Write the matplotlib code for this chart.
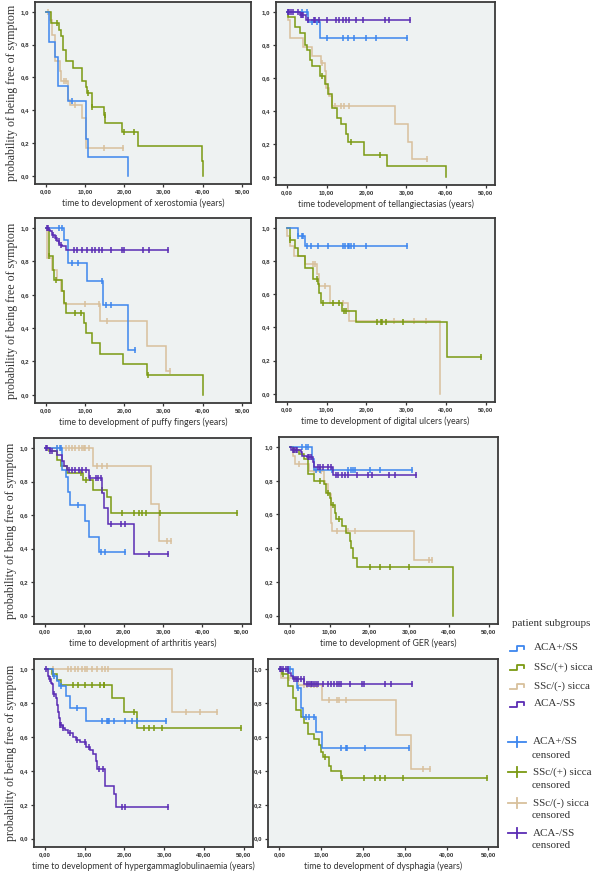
import numpy as np
import matplotlib
matplotlib.use("Agg")
import matplotlib.pyplot as plt
from matplotlib.lines import Line2D

# ---------------- data (times in years, survival probabilities, censor times) ----------------
# Panel 1: xerostomia
xero_blue_t = [0.8, 2.4, 3.2, 5.8, 10.2, 10.8, 21.1]
xero_blue_s = [0.818, 0.727, 0.545, 0.455, 0.227, 0.114, 0.0]
xero_blue_c = [6.6]
xero_green_t = [1.3, 3.4, 3.8, 4.5, 5.3, 7.1, 9.3, 10.2, 10.6, 11.7, 14.8, 15.2, 19.4, 23.6, 39.7, 40.2]
xero_green_s = [0.93, 0.89, 0.85, 0.77, 0.70, 0.66, 0.58, 0.54, 0.505, 0.42, 0.37, 0.32, 0.265, 0.18, 0.09, 0.0]
xero_green_c = [3.0, 10.8, 11.9, 15.0, 20.0, 22.5]
xero_tan_t = [1.2, 1.6, 2.4, 3.7, 4.0, 5.8, 6.1, 9.2, 10.2]
xero_tan_s = [0.95, 0.86, 0.70, 0.64, 0.58, 0.46, 0.43, 0.35, 0.17]
xero_tan_c = [0.5, 4.7, 5.3, 7.4, 14.8, 19.8]

# Panel 2: telangiectasias
tel_purple_t = [3.4, 4.8]
tel_purple_s = [0.98, 0.95]
tel_purple_c = [0.2, 0.5, 1.0, 1.5, 2.8, 3.6, 3.9, 4.2, 5.4, 6.8, 7.2, 8.1, 10.2, 12.3, 13.2,
                14.2, 14.8, 15.7, 17.4, 19.1, 24.6, 25.8, 30.9]
tel_blue_t = [5.4, 8.3]
tel_blue_s = [0.94, 0.84]
tel_blue_c = [0.4, 3.8, 5.0, 6.4, 7.6, 10.2, 14.2, 15.3, 16.9, 19.9, 22.3, 30.1]
tel_green_t = [0.4, 2.1, 3.4, 4.5, 5.1, 5.9, 6.4, 8.3, 9.7, 10.3, 11.3, 12.5, 13.6, 14.8, 15.3, 19.5, 25.2, 40.1]
tel_green_s = [0.97, 0.91, 0.87, 0.80, 0.77, 0.71, 0.67, 0.61, 0.56, 0.50, 0.42, 0.355, 0.32, 0.26, 0.21, 0.13, 0.065, 0.0]
tel_green_c = [8.9, 16.1, 23.3]
tel_tan_t = [0.2, 0.85, 4.2, 6.4, 8.5, 9.6, 9.9, 10.6, 11.4, 27.3, 30.5, 31.5]
tel_tan_s = [0.95, 0.84, 0.79, 0.73, 0.69, 0.64, 0.54, 0.49, 0.43, 0.32, 0.21, 0.11]
tel_tan_c = [8.9, 12.0, 13.6, 14.4, 15.7, 35.2]

# Panel 3: puffy fingers
puffy_purple_t = [0.8, 1.2, 1.6, 2.3, 2.9, 3.5, 4.2, 5.3]
puffy_purple_s = [0.99, 0.98, 0.96, 0.94, 0.92, 0.90, 0.89, 0.87]
puffy_purple_c = [0.3, 0.6, 1.8, 2.6, 3.3, 4.0, 7.2, 8.0, 9.3, 10.6, 11.7, 12.7, 13.6, 14.4,
                  16.6, 19.4, 20.0, 24.7, 26.4, 31.1]
puffy_blue_t = [4.6, 5.6, 10.6, 14.7, 21.1]
puffy_blue_s = [0.93, 0.79, 0.68, 0.54, 0.27]
puffy_blue_c = [3.3, 4.2, 6.6, 8.2, 14.4, 15.3, 16.6, 22.7]
puffy_green_t = [0.8, 1.9, 2.2, 4.2, 4.6, 5.3, 9.7, 10.2, 11.9, 13.8, 19.6, 25.7, 40.1]
puffy_green_s = [0.83, 0.75, 0.69, 0.62, 0.55, 0.49, 0.43, 0.37, 0.31, 0.245, 0.185, 0.12, 0.0]
puffy_green_c = [0.9, 2.6, 7.6, 9.1, 26.0]
puffy_tan_t = [0.3, 1.6, 2.9, 3.9, 4.6, 13.8, 25.7, 30.7]
puffy_tan_s = [0.82, 0.75, 0.69, 0.62, 0.545, 0.44, 0.29, 0.145]
puffy_tan_c = [10.0, 13.6, 15.6, 31.8]

# Panel 4: digital ulcers
dig_blue_t = [2.7, 4.5]
dig_blue_s = [0.95, 0.89]
dig_blue_c = [2.9, 3.9, 4.1, 5.0, 6.0, 7.8, 10.3, 14.2, 14.7, 15.4, 15.7, 16.1, 17.0, 20.0, 30.3]
dig_green_t = [0.7, 2.0, 2.7, 4.7, 6.5, 7.8, 8.2, 8.7, 13.8, 17.3, 40.2]
dig_green_s = [0.93, 0.88, 0.83, 0.76, 0.69, 0.66, 0.61, 0.545, 0.50, 0.435, 0.22]
dig_green_c = [0.9, 7.6, 9.0, 11.6, 13.1, 14.4, 14.8, 22.6, 23.7, 23.9, 24.9, 29.2, 48.8]
dig_tan_t = [0.1, 0.9, 1.8, 4.7, 7.6, 8.2, 10.8, 15.3, 15.7, 38.5]
dig_tan_s = [0.95, 0.89, 0.83, 0.78, 0.72, 0.65, 0.55, 0.50, 0.44, 0.0]
dig_tan_c = [6.7, 7.1, 9.7, 14.2, 26.9, 32.0, 35.0]

# Panel 5: arthritis
arth_tan_t = [12.3, 27.0, 29.0]
arth_tan_s = [0.89, 0.665, 0.445]
arth_tan_c = [3.1, 5.3, 6.1, 6.9, 7.8, 8.6, 9.5, 9.9, 10.3, 11.2, 13.3, 14.6, 15.7, 31.1, 32.1]
arth_green_t = [1.0, 3.1, 4.2, 5.7, 9.7, 12.2, 15.7, 16.7]
arth_green_s = [0.98, 0.93, 0.89, 0.85, 0.81, 0.75, 0.71, 0.615]
arth_green_c = [9.1, 10.6, 14.6, 19.7, 22.6, 23.9, 24.7, 25.6, 29.2, 48.7]
arth_purple_t = [1.3, 3.1, 4.4, 4.8, 5.7, 11.2, 14.6, 15.0, 16.0, 22.6]
arth_purple_s = [0.98, 0.96, 0.92, 0.89, 0.87, 0.82, 0.73, 0.64, 0.545, 0.365]
arth_purple_c = [0.3, 0.5, 1.4, 1.9, 6.1, 6.9, 7.8, 8.6, 9.5, 10.6, 11.6, 12.9, 13.5, 14.2,
                 16.7, 19.4, 20.3, 26.4, 31.3]
arth_blue_t = [4.4, 5.3, 5.9, 6.5, 10.3, 11.2, 13.9]
arth_blue_s = [0.87, 0.83, 0.74, 0.66, 0.565, 0.47, 0.38]
arth_blue_c = [3.1, 3.8, 4.2, 8.4, 14.3, 15.4, 20.3]

# Panel 6: GER
ger_blue_t = [5.6, 6.2]
ger_blue_s = [0.93, 0.865]
ger_blue_c = [3.2, 4.1, 4.5, 6.6, 7.7, 10.7, 14.7, 15.5, 15.9, 16.4, 20.2, 22.7, 30.8]
ger_purple_t = [0.4, 2.8, 3.2, 4.3, 5.8, 6.2, 10.8]
ger_purple_s = [0.98, 0.97, 0.95, 0.94, 0.91, 0.88, 0.835]
ger_purple_c = [0.7, 1.1, 1.5, 1.9, 4.7, 4.9, 5.3, 7.0, 7.7, 8.3, 9.6, 10.4, 11.7, 12.1, 13.0,
                13.8, 14.7, 16.8, 19.7, 20.6, 24.8, 26.5, 31.6]
ger_green_t = [0.7, 2.4, 3.6, 4.5, 6.2, 8.6, 9.2, 10.0, 10.4, 11.3, 11.7, 13.0, 14.2, 15.1, 15.5, 15.9, 16.8, 40.9]
ger_green_s = [0.98, 0.96, 0.93, 0.84, 0.80, 0.78, 0.73, 0.70, 0.655, 0.61, 0.575, 0.53, 0.49, 0.44, 0.40, 0.34, 0.29, 0.0]
ger_green_c = [1.1, 7.5, 9.6, 10.8, 12.3, 20.2, 22.7, 25.3, 29.9]
ger_tan_t = [0.7, 1.4, 4.9, 8.6, 8.9, 9.7, 10.3, 10.4, 10.7, 31.2]
ger_tan_s = [0.95, 0.90, 0.86, 0.80, 0.78, 0.72, 0.66, 0.55, 0.50, 0.33]
ger_tan_c = [2.4, 6.0, 7.9, 11.9, 14.7, 16.4, 35.0, 35.8]

# Panel 7: hypergammaglobulinaemia
hyp_tan_t = [32.0]
hyp_tan_s = [0.75]
hyp_tan_c = [2.1, 5.9, 6.7, 7.6, 8.4, 9.3, 10.1, 10.5, 11.8, 13.1, 14.3, 15.2, 15.8, 35.4, 39.0, 43.2]
hyp_green_t = [1.7, 3.1, 4.2, 16.9, 19.8, 23.2]
hyp_green_s = [0.97, 0.935, 0.905, 0.83, 0.75, 0.655]
hyp_green_c = [2.1, 7.0, 8.4, 10.1, 11.8, 13.9, 14.8, 15.0, 22.5, 25.0, 26.1, 27.4, 29.5, 49.2]
hyp_blue_t = [2.1, 3.1, 3.6, 5.3, 6.3, 10.4]
hyp_blue_s = [0.96, 0.93, 0.90, 0.84, 0.77, 0.695]
hyp_blue_c = [2.4, 4.2, 8.2, 14.3, 15.6, 15.9, 16.1, 17.3, 20.2, 21.9, 23.2, 30.5]
hyp_purple_t = [0.7, 1.1, 1.5, 1.9, 2.1, 2.8, 3.1, 3.4, 3.5, 3.8, 4.5, 5.1, 5.9, 7.0, 7.8, 8.9,
                10.4, 11.4, 12.0, 12.8, 13.1, 15.2, 17.5, 18.0]
hyp_purple_s = [0.96, 0.94, 0.92, 0.91, 0.855, 0.83, 0.79, 0.75, 0.71, 0.67, 0.655, 0.64, 0.625,
                0.60, 0.58, 0.57, 0.54, 0.52, 0.50, 0.455, 0.41, 0.31, 0.265, 0.185]
hyp_purple_c = [0.4, 1.3, 2.4, 3.9, 4.2, 4.7, 6.3, 8.2, 10.0, 11.0, 13.5, 14.6, 19.4, 20.2, 31.0]

# Panel 8: dysphagia
dys_purple_t = [2.2, 2.8, 3.2, 6.0]
dys_purple_s = [0.98, 0.96, 0.94, 0.91]
dys_purple_c = [0.1, 0.4, 0.9, 1.5, 2.0, 3.5, 4.1, 4.5, 5.2, 5.8, 6.6, 7.1, 7.5, 7.9, 8.4, 8.8,
                9.2, 10.5, 11.7, 12.3, 13.0, 13.9, 14.3, 14.7, 16.8, 19.8, 20.2, 25.3, 26.6, 31.7]
dys_blue_t = [3.2, 4.3, 5.2, 5.6, 8.8, 10.3]
dys_blue_s = [0.95, 0.89, 0.77, 0.715, 0.63, 0.535]
dys_blue_c = [2.0, 2.6, 4.5, 6.4, 7.1, 8.3, 14.7, 16.0, 16.2, 20.5, 30.9]
dys_green_t = [0.7, 2.2, 3.2, 4.1, 5.2, 5.8, 6.9, 8.2, 9.4, 10.0, 10.5, 12.0, 12.3, 14.7]
dys_green_s = [0.97, 0.90, 0.83, 0.76, 0.72, 0.68, 0.62, 0.585, 0.55, 0.51, 0.48, 0.43, 0.40, 0.36]
dys_green_c = [0.9, 10.9, 15.1, 20.2, 22.8, 24.1, 25.3, 29.6, 49.6]
dys_tan_t = [0.4, 4.5, 10.3, 27.9, 31.5]
dys_tan_s = [0.95, 0.905, 0.815, 0.61, 0.41]
dys_tan_c = [2.4, 5.8, 6.6, 7.5, 8.2, 8.9, 12.0, 13.7, 14.3, 16.0, 34.3, 36.0]

xlabels = [
    "time to development of xerostomia (years)",
    "time todevelopment of tellangiectasias (years)",
    "time to development of puffy fingers (years)",
    "time to development of digital ulcers (years)",
    "time to development of arthritis years)",
    "time to development of GER (years)",
    "time to development of hypergammaglobulinaemia (years)",
    "time to development of dysphagia (years)",
]
ylabel_text = "probability of being free of symptom"
group_names = ["ACA+/SS", "SSc/(+) sicca", "SSc/(-) sicca", "ACA-/SS"]
legend_title = "patient subgroups"
x_ticks = [0, 10, 20, 30, 40, 50]
y_ticks = [0.0, 0.2, 0.4, 0.6, 0.8, 1.0]

# ---------------- styling ----------------
COL = {"blue": "#3d86ee", "green": "#7b9a12", "tan": "#d8c09c", "purple": "#5a2cb4"}
BG = "#eef2f2"
SERIF = ["Liberation Serif", "DejaVu Serif"]
SANS = ["Lato", "DejaVu Sans"]
TICKFONT = ["Liberation Sans", "DejaVu Sans"]

panels = [
    [("tan", xero_tan_t, xero_tan_s, xero_tan_c), ("green", xero_green_t, xero_green_s, xero_green_c),
     ("blue", xero_blue_t, xero_blue_s, xero_blue_c)],
    [("tan", tel_tan_t, tel_tan_s, tel_tan_c), ("green", tel_green_t, tel_green_s, tel_green_c),
     ("blue", tel_blue_t, tel_blue_s, tel_blue_c), ("purple", tel_purple_t, tel_purple_s, tel_purple_c)],
    [("tan", puffy_tan_t, puffy_tan_s, puffy_tan_c), ("green", puffy_green_t, puffy_green_s, puffy_green_c),
     ("blue", puffy_blue_t, puffy_blue_s, puffy_blue_c), ("purple", puffy_purple_t, puffy_purple_s, puffy_purple_c)],
    [("tan", dig_tan_t, dig_tan_s, dig_tan_c), ("green", dig_green_t, dig_green_s, dig_green_c),
     ("blue", dig_blue_t, dig_blue_s, dig_blue_c)],
    [("tan", arth_tan_t, arth_tan_s, arth_tan_c), ("green", arth_green_t, arth_green_s, arth_green_c),
     ("blue", arth_blue_t, arth_blue_s, arth_blue_c), ("purple", arth_purple_t, arth_purple_s, arth_purple_c)],
    [("tan", ger_tan_t, ger_tan_s, ger_tan_c), ("green", ger_green_t, ger_green_s, ger_green_c),
     ("blue", ger_blue_t, ger_blue_s, ger_blue_c), ("purple", ger_purple_t, ger_purple_s, ger_purple_c)],
    [("tan", hyp_tan_t, hyp_tan_s, hyp_tan_c), ("green", hyp_green_t, hyp_green_s, hyp_green_c),
     ("blue", hyp_blue_t, hyp_blue_s, hyp_blue_c), ("purple", hyp_purple_t, hyp_purple_s, hyp_purple_c)],
    [("tan", dys_tan_t, dys_tan_s, dys_tan_c), ("green", dys_green_t, dys_green_s, dys_green_c),
     ("blue", dys_blue_t, dys_blue_s, dys_blue_c), ("purple", dys_purple_t, dys_purple_s, dys_purple_c)],
]

# axes boxes in pixels: left, top, right, bottom
boxes = [
    (35, 2, 251, 184), (276, 2, 495, 185),
    (35, 218, 251, 403), (276, 218, 495, 402),
    (34, 438, 251, 624), (279, 437, 498, 624),
    (34, 659, 253, 847), (268, 659, 498, 847),
]

W, H = 600, 874
fig = plt.figure(figsize=(W / 100, H / 100), dpi=100)
fig.patch.set_facecolor("white")


def km_curve(ax, t, s, c, color):
    t = np.asarray(t, float)
    s = np.asarray(s, float)
    c = np.asarray(c, float)
    xs = np.concatenate([[0.0], t])
    ys = np.concatenate([[1.0], s])
    end = max(t.max(), c.max() if c.size else 0.0)
    if ys[-1] > 0 and end > xs[-1]:
        xs = np.append(xs, end)
        ys = np.append(ys, ys[-1])
    ax.step(xs, ys, where="post", color=color, lw=1.1, solid_joinstyle="miter")
    if c.size:
        idx = np.searchsorted(t, c, side="right")
        yc = np.concatenate([[1.0], s])[idx]
        ax.plot(c, yc, ls="none", marker="|", ms=4.5, mew=1.1, color=color)


for i, (box, curves) in enumerate(zip(boxes, panels)):
    l, t, r, b = box
    ax = fig.add_axes([l / W, 1 - b / H, (r - l) / W, (b - t) / H])
    ax.set_facecolor(BG)
    for name, tt, ss, cc in curves:
        km_curve(ax, tt, ss, cc, COL[name])
    ax.set_xlim(-2.7, 52.3)
    ax.set_ylim(-0.05, 1.06)
    ax.set_xticks(x_ticks)
    ax.set_xticklabels([f"{v:.2f}".replace(".", ",") for v in x_ticks],
                       fontsize=4.4, fontweight="bold", family=TICKFONT, color="#333333")
    ax.set_yticks(y_ticks)
    ax.set_yticklabels([f"{v:.1f}".replace(".", ",") for v in y_ticks],
                       fontsize=4.4, fontweight="bold", family=TICKFONT, color="#333333")
    ax.tick_params(direction="out", length=2.5, width=0.9, pad=1.5, color="#333333")
    for sp in ax.spines.values():
        sp.set_linewidth(1.3)
        sp.set_color("#3a3a3a")
    ax.set_xlabel(xlabels[i], fontsize=6.3, family=SANS, color="#333333", labelpad=2.5)
    if i % 2 == 0:
        ax.set_ylabel(ylabel_text, fontsize=8.6, family=SERIF, color="#333333", labelpad=2)

# ---------------- legend (drawn in figure pixels) ----------------
def fx(x):
    return x / W


def fy(y):
    return 1 - y / H


LEG_FS = 7.9
fig.text(fx(512), fy(623), legend_title, fontsize=LEG_FS, family=SERIF, color="#333333", va="center", ha="left")

colors_order = ["blue", "green", "tan", "purple"]
step_rows = [648, 667, 686, 704]
for name, col, y in zip(group_names, colors_order, step_rows):
    xs = [510, 517, 517, 524, 524]
    ys = [y + 3, y + 3, y - 2, y - 2, y + 1]
    fig.add_artist(Line2D([fx(v) for v in xs], [fy(v) for v in ys], color=COL[col], lw=1.3,
                          transform=fig.transFigure))
    fig.text(fx(534), fy(y), name, fontsize=LEG_FS, family=SERIF, color="#333333", va="center", ha="left")

cens_rows = [742, 772, 803, 833]
for name, col, y in zip(group_names, colors_order, cens_rows):
    fig.add_artist(Line2D([fx(508), fx(526)], [fy(y), fy(y)], color=COL[col], lw=1.3,
                          transform=fig.transFigure))
    fig.add_artist(Line2D([fx(517), fx(517)], [fy(y - 5), fy(y + 5)], color=COL[col], lw=1.3,
                          transform=fig.transFigure))
    fig.text(fx(533), fy(y), name, fontsize=LEG_FS, family=SERIF, color="#333333", va="center", ha="left")
    fig.text(fx(532), fy(y + 13), "censored", fontsize=LEG_FS, family=SERIF, color="#333333",
             va="center", ha="left")

fig.savefig("out.png", dpi=100, facecolor="white")
